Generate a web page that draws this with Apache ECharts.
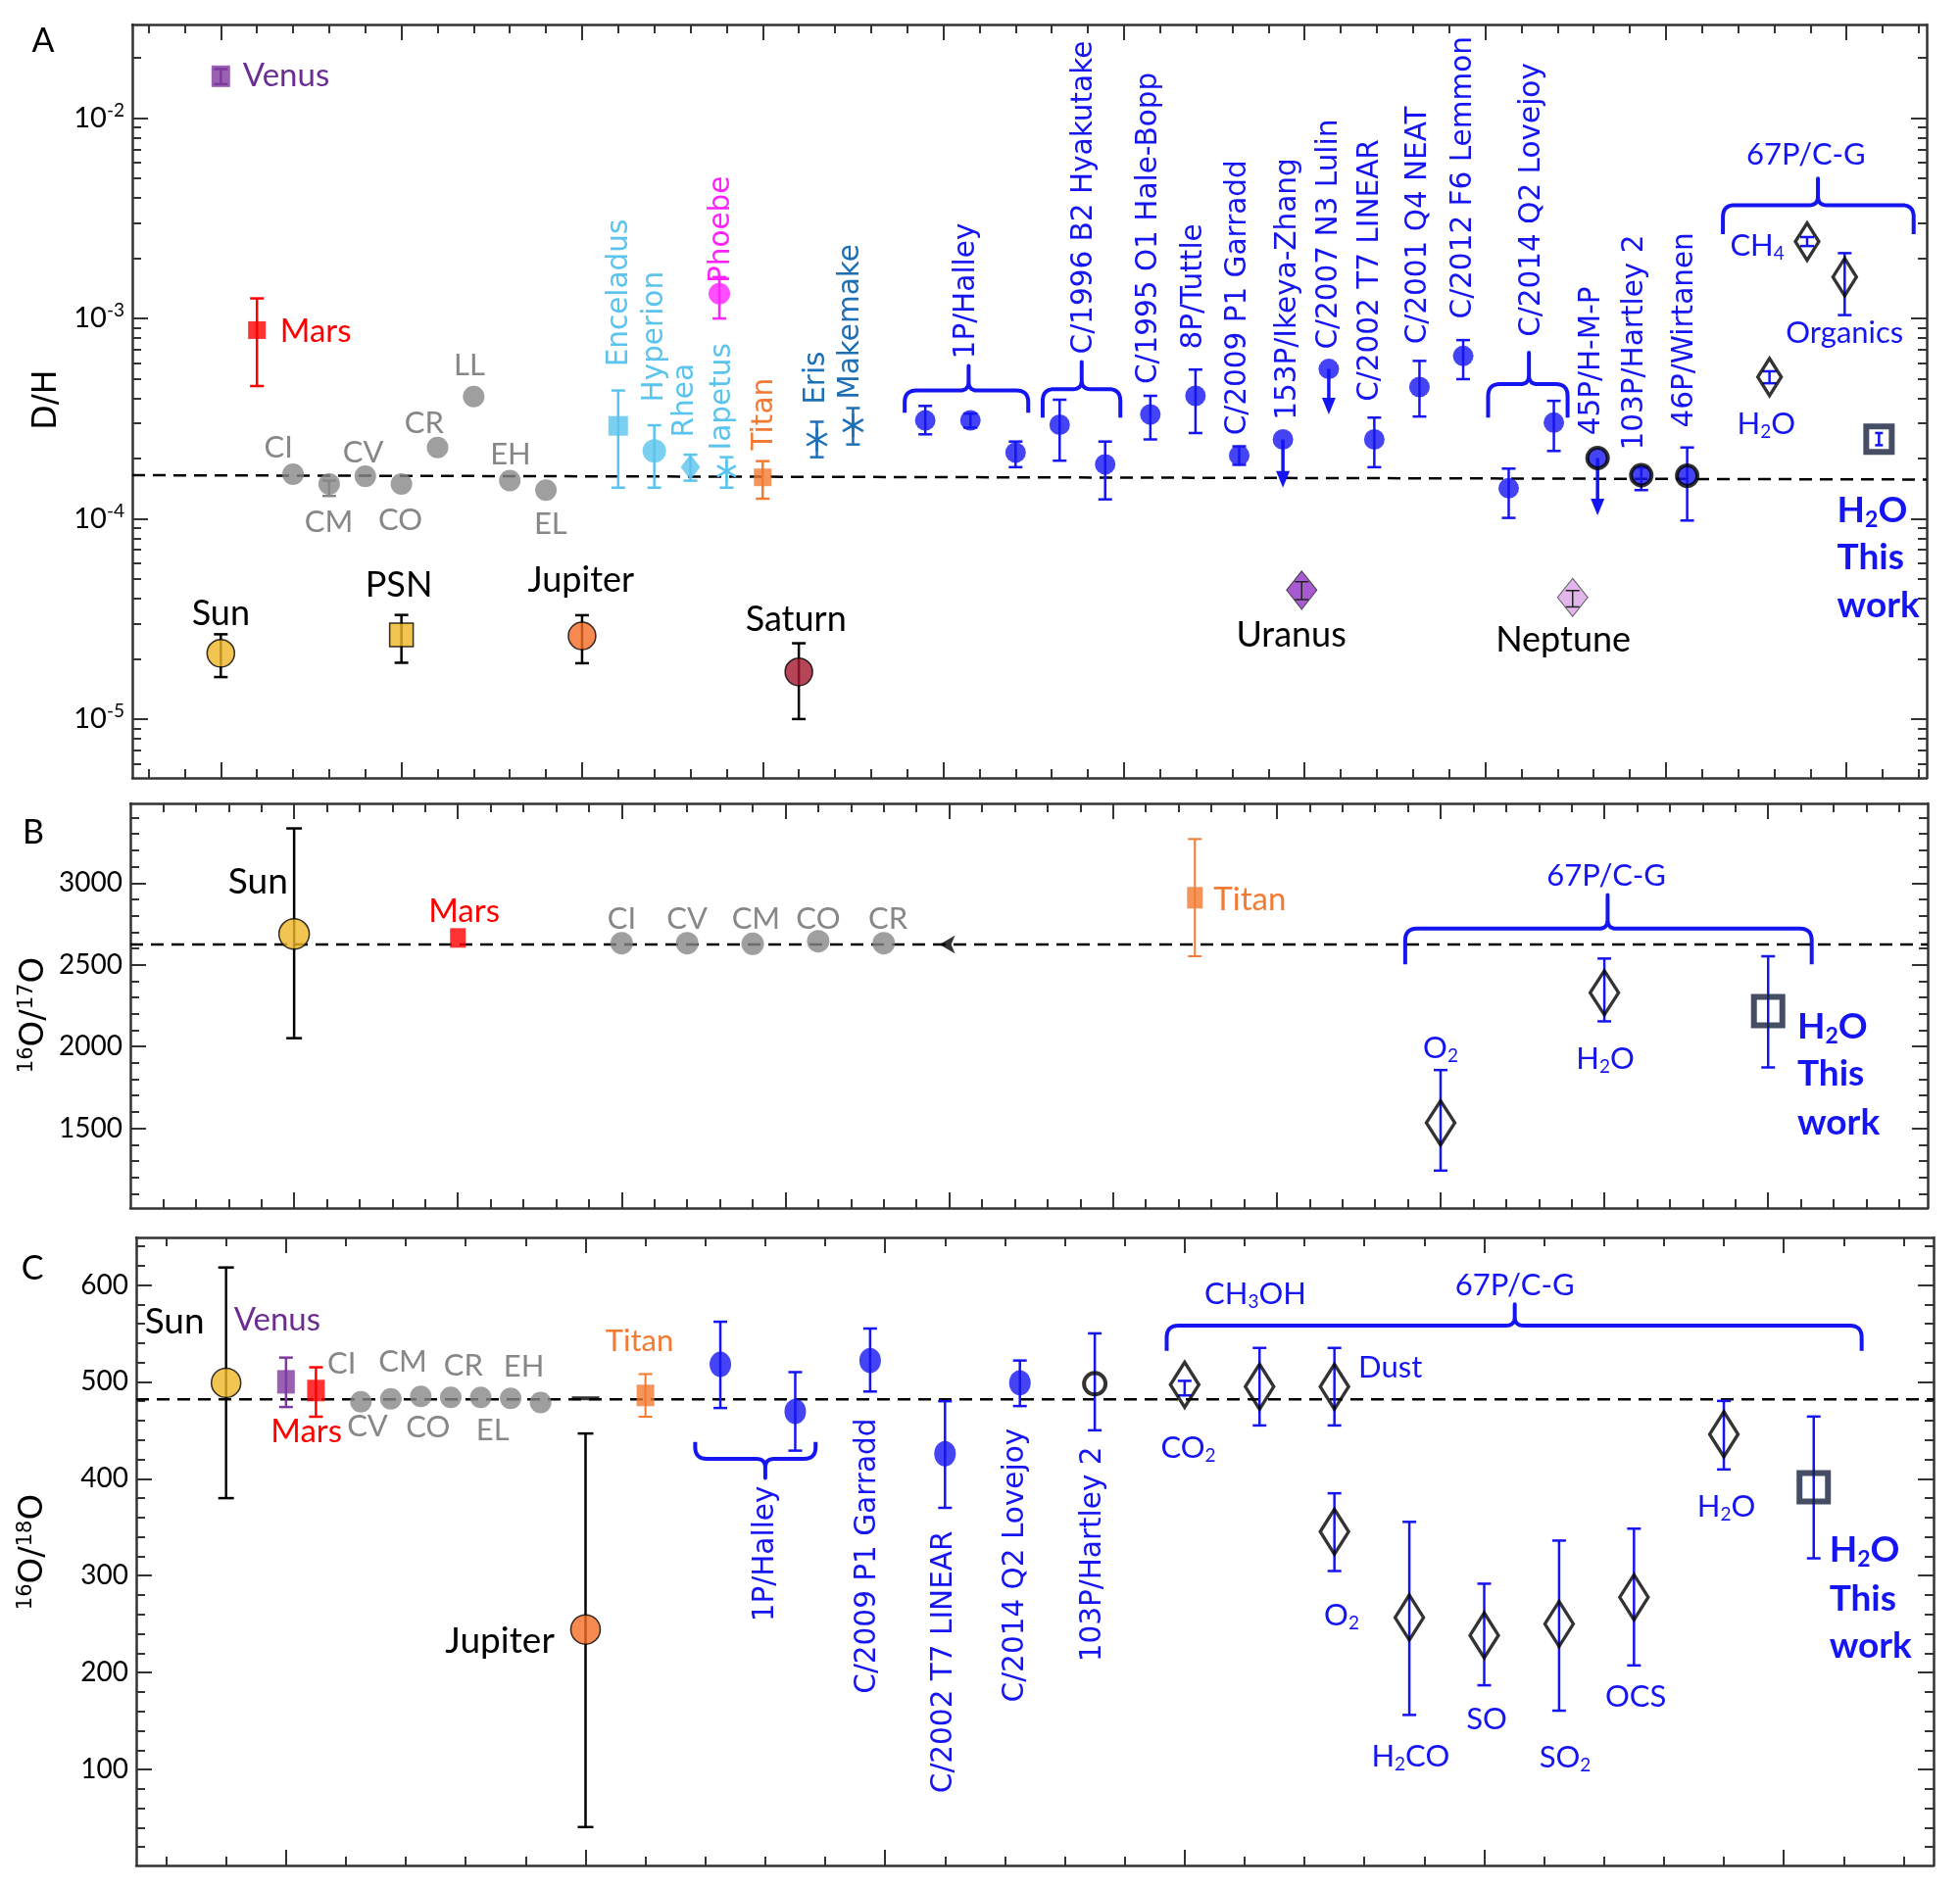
<!DOCTYPE html>
<html><head><meta charset="utf-8">
<script src="https://cdn.jsdelivr.net/npm/echarts@6.0.0/dist/echarts.min.js"></script>
<style>html,body{margin:0;padding:0;background:#fff}#chart{width:2000px;height:1926px}</style>
</head><body><div id="chart"></div>
<script>
// ================= DATA =================
// Panel A : D/H   rows = [position, D/H, low, high]
const aVenus = [[5, 1.62e-2, 1.48e-2, 1.76e-2]];
const aMars = [[6, 8.75e-4, 4.6e-4, 1.26e-3]];
const aSun = [[5, 2.13e-5, 1.62e-5, 2.65e-5]];
const aPSN = [[10, 2.63e-5, 1.91e-5, 3.31e-5]];
const aJupiter = [[15, 2.6e-5, 1.9e-5, 3.3e-5]];
const aSaturn = [[21, 1.72e-5, 1.0e-5, 2.39e-5]];
const aMeteorites = [[7, 1.67e-4], [8, 1.49e-4, 1.3e-4, 1.55e-4], [9, 1.63e-4], [10, 1.49e-4], [11, 2.27e-4], [12, 4.08e-4], [13, 1.55e-4], [14, 1.39e-4]];
const aEnceladus = [[16, 2.91e-4, 1.43e-4, 4.37e-4]];
const aHyperion = [[17, 2.18e-4, 1.43e-4, 2.93e-4]];
const aRhea = [[18, 1.81e-4, 1.55e-4, 2.09e-4]];
const aIapetus = [[19, 1.73e-4, 1.43e-4, 2.03e-4]];
const aPhoebe = [[18.8, 1.33e-3, 1.0e-3, 1.61e-3]];
const aTitan = [[20, 1.61e-4, 1.26e-4, 1.94e-4]];
const aKBO = [[21.5, 2.49e-4, 2.03e-4, 3.05e-4], [22.5, 2.93e-4, 2.35e-4, 3.57e-4]];
const aComets = [
  [24.5, 3.1e-4, 2.64e-4, 3.66e-4], [25.75, 3.1e-4, 2.85e-4, 3.35e-4], [27, 2.14e-4, 1.81e-4, 2.43e-4],
  [28.22, 2.95e-4, 1.95e-4, 3.93e-4], [29.48, 1.87e-4, 1.25e-4, 2.43e-4],
  [30.73, 3.32e-4, 2.49e-4, 4.11e-4], [31.98, 4.11e-4, 2.68e-4, 5.56e-4], [33.19, 2.07e-4, 1.86e-4, 2.3e-4],
  [34.4, 2.49e-4], [35.67, 5.6e-4],
  [36.93, 2.49e-4, 1.81e-4, 3.2e-4], [38.18, 4.55e-4, 3.24e-4, 6.14e-4], [39.39, 6.5e-4, 4.98e-4, 7.8e-4],
  [40.65, 1.42e-4, 1.01e-4, 1.78e-4], [41.9, 3.02e-4, 2.18e-4, 3.88e-4]];
const aCometLimits = [[34.4, 2.49e-4, 1.43e-4], [35.67, 5.6e-4, 3.32e-4], [43.11, 2.01e-4, 1.04e-4]];
const aJFC = [[43.11, 2.01e-4], [44.32, 1.65e-4, 1.39e-4, 1.8e-4], [45.59, 1.64e-4, 0.98e-4, 2.27e-4]];
const aUranus = [[34.92, 4.4e-5, 3.95e-5, 4.85e-5]];
const aNeptune = [[42.42, 4.05e-5, 3.63e-5, 4.38e-5]];
const a67P = [[47.87, 5.1e-4, 4.75e-4, 5.45e-4], [48.91, 2.42e-3, 2.3e-3, 2.55e-3], [49.95, 1.61e-3, 1.04e-3, 2.12e-3]];
const aThisWork = [[50.9, 2.5e-4, 2.33e-4, 2.68e-4]];
const aRef = [[2.55, 1.65e-4], [52.22, 1.57e-4]];
// brackets: [x1, x2, base, end, peakX, peak]
const aBrackets = [[23.93, 27.35, 4.37e-4, 3.38e-4, 25.7, 5.8e-4], [27.75, 29.9, 4.44e-4, 3.2e-4, 28.83, 6.07e-4],
  [40.08, 42.28, 4.7e-4, 3.2e-4, 41.21, 6.75e-4], [46.58, 51.86, 3.68e-3, 2.64e-3, 49.21, 5.0e-3]];
// labels: [text, position, value]
const aLabVenus = [['Venus', 5.61, 1.62e-2]];
const aLabMars = [['Mars', 6.64, 8.6e-4]];
const aLabGrey = [['CI', 6.6, 2.26e-4], ['CM', 7.99, 9.64e-5], ['CV', 8.94, 2.13e-4], ['CO', 9.97, 9.85e-5], ['CR', 10.63, 2.99e-4], ['LL', 11.88, 5.83e-4], ['EH', 13.02, 2.1e-4], ['EL', 14.13, 9.4e-5]];
const aLabBlack = [['Sun', 5, 3.35e-5], ['PSN', 9.93, 4.63e-5], ['Jupiter', 14.97, 4.9e-5], ['Saturn', 20.92, 3.13e-5], ['Uranus', 34.63, 2.63e-5], ['Neptune', 42.16, 2.48e-5]];
const aLabBlue = [['67P/C-G', 48.88, 6.59e-3], ['CH_4', 47.53, 2.31e-3], ['Organics', 49.95, 8.5e-4], ['H_2O', 47.78, 2.98e-4]];
const aLabBold = [['H_2O', 49.74, 1.1e-4], ['This', 49.74, 6.4e-5], ['work', 49.74, 3.68e-5]];
const aRotLight = [['Enceladus', 16.03, 5.74e-4], ['Hyperion', 17.02, 3.82e-4], ['Rhea', 17.85, 2.55e-4], ['Iapetus', 18.9, 2.2e-4]];
const aRotMagenta = [['Phoebe', 18.85, 1.5e-3]];
const aRotOrange = [['Titan', 20.05, 2.2e-4]];
const aRotMid = [['Eris', 21.49, 3.72e-4], ['Makemake', 22.44, 3.94e-4]];
const aRotBlue = [['1P/Halley', 25.64, 6.28e-4], ['C/1996 B2 Hyakutake', 28.91, 6.64e-4], ['C/1995 O1 Hale-Bopp', 30.7, 4.7e-4], ['8P/Tuttle', 31.94, 7.02e-4],
  ['C/2009 P1 Garradd', 33.16, 2.61e-4], ['153P/Ikeya-Zhang', 34.54, 3.11e-4], ['C/2007 N3 Lulin', 35.67, 7.02e-4], ['C/2002 T7 LINEAR', 36.83, 3.85e-4],
  ['C/2001 Q4 NEAT', 38.14, 7.44e-4], ['C/2012 F6 Lemmon', 39.39, 9.96e-4], ['C/2014 Q2 Lovejoy', 41.29, 8.1e-4], ['45P/H-M-P', 42.94, 2.61e-4],
  ['103P/Hartley 2', 44.15, 2.2e-4], ['46P/Wirtanen', 45.54, 2.85e-4]];
const aXMajor = [5, 10, 15, 20, 25, 30, 35, 40, 45, 50];
const aYMajorExp = [-5, -4, -3, -2];

// Panel B : 16O/17O
const bSun = [[5, 2688, 2051, 3334]];
const bMars = [[10, 2664]];
const bMeteorites = [[15, 2632], [17, 2632], [19, 2628], [21, 2644], [23, 2632]];
const bEarth = [[24.7, 2624]];
const bTitan = [[32.5, 2910, 2552, 3269]];
const b67P = [[40, 1533, 1241, 1856], [45, 2329, 2154, 2538]];
const bThisWork = [[50, 2216, 1872, 2552]];
const bRef = [[0, 2624], [54.87, 2624]];
const bBrackets = [[38.92, 51.33, 2721, 2503, 45.1, 2926]];
const bLabBlack = [['Sun', 3.9, 3010]];
const bLabRed = [['Mars', 10.19, 2827]];
const bLabGrey = [['CI', 15, 2777], ['CV', 17, 2777], ['CM', 19.1, 2777], ['CO', 21, 2777], ['CR', 23.13, 2777]];
const bLabOrange = [['Titan', 33.07, 2896]];
const bLabBlue = [['67P/C-G', 45.06, 3046], ['O_2', 40, 1991], ['H_2O', 45.03, 1922]];
const bLabBold = [['H_2O', 50.89, 2120], ['This', 50.89, 1832], ['work', 50.89, 1533]];
const bXMajor = [5, 10, 15, 20, 25, 30, 35, 40, 45, 50];
const bYMajor = [1500, 2000, 2500, 3000];

// Panel C : 16O/18O
const cSun = [[4, 499, 380, 618]];
const cVenus = [[5, 500, 474, 525]];
const cMars = [[5.5, 491, 464, 515]];
const cMeteorites = [[6.25, 479.5], [6.75, 482.5], [7.25, 485], [7.75, 484], [8.25, 484], [8.75, 483], [9.25, 478.6]];
const cEarth = [[10, 483]];
const cJupiter = [[10, 244.5, 40.6, 446.7]];
const cTitan = [[11, 486, 464, 508]];
const cComets = [[12.25, 518, 473, 562], [13.5, 469.4, 429, 510], [14.75, 522, 490, 555], [16, 425.8, 370, 480], [17.25, 499, 475, 522]];
const cHartley = [[18.5, 498, 450, 550]];
const c67P = [[20, 497, 486, 501], [21.25, 495, 455, 535], [22.5, 495, 455, 535], [22.5, 345.4, 304.8, 385], [23.75, 256.8, 156.3, 355.5],
  [25, 238.4, 186.9, 291.7], [26.25, 250.2, 160.7, 336.2], [27.5, 277.7, 207.4, 348.5], [29, 445.9, 409.6, 480.3]];
const cThisWork = [[30.5, 391.3, 317.9, 464.2]];
const cRef = [[2.5, 482], [32.5, 482]];
const cBrackets = [[11.83, 13.84, 420.5, 438, 13.0, 400.8], [19.7, 31.3, 558, 531.9, 25.51, 579.9]];
const cLabBlack = [['Sun', 3.14, 562.4], ['Jupiter', 8.57, 232.8]];
const cLabVenus = [['Venus', 4.13, 563.3]];
const cLabRed = [['Mars', 5.34, 448.9]];
const cLabGrey = [['CI', 5.93, 518.8], ['CM', 6.95, 521], ['CR', 7.96, 516.6], ['EH', 8.97, 515.3], ['CV', 6.36, 454.1], ['CO', 7.37, 452.4], ['EL', 8.45, 450.2]];
const cLabOrange = [['Titan', 10.9, 541.5]];
const cLabBlue = [['CH_3OH', 21.18, 590.8], ['67P/C-G', 25.51, 599.6], ['CO_2', 20.06, 431.4], ['O_2', 22.62, 259], ['H_2CO', 23.77, 113.5],
  ['SO', 25.04, 152], ['SO_2', 26.35, 112.7], ['OCS', 27.53, 174.7], ['H_2O', 29.04, 371.2]];
const cLabDust = [['Dust', 22.9, 514.4]];
const cLabBold = [['H_2O', 30.76, 326.6], ['This', 30.76, 275.5], ['work', 30.76, 227]];
const cRotBlue = [['1P/Halley', 13.0, 252.4], ['C/2009 P1 Garradd', 14.71, 178.2], ['C/2002 T7 LINEAR', 15.98, 75.6], ['C/2014 Q2 Lovejoy', 17.18, 169.4], ['103P/Hartley 2', 18.47, 210.9]];
const cXMajor = [5, 10, 15, 20, 25, 30];
const cYMajor = [100, 200, 300, 400, 500, 600];

// ================= STYLE / BUILD =================
const BLUE = '#1515f2', LBLUE = '#5ac4ee', MBLUE = '#1d6fb6', MAGENTA = '#ff22ff', ORANGE = '#f37a33',
  GREY = '#878787', RED = '#ff0000', PURPLE = '#6b2d92', PURPLE_M = '#7e3a9e', GOLD = '#efb526', JUP = '#f46d25',
  SAT = '#a3162d', URANUS = '#9232c4', NEPTUNE = '#dca4e6', NAVY = '#16223f', FRAME = '#333';
const FH = 'Lato, "Noto Sans", sans-serif', FR = '"DejaVu Sans", sans-serif';
const TRANSP = 'rgba(255,255,255,0)';
const ROT = 29.5;

function range(a, b, s) { const r = []; for (let v = a; v <= b + 1e-9; v += (s || 1)) r.push(+v.toFixed(6)); return r; }

const grids = [
  { left: 135, top: 25, width: 1831, height: 769 },
  { left: 133, top: 820, width: 1834, height: 413 },
  { left: 139, top: 1263, width: 1834, height: 641 }
];

const xAxes = [], yAxes = [];
function decoAxis(g, min, max, pos, vals, len, line, label) {
  return {
    type: 'value', gridIndex: g, min: min, max: max, position: pos,
    axisLine: { show: line, onZero: false, lineStyle: { color: FRAME, width: 2.5 } },
    axisTick: { show: true, inside: true, length: len, customValues: vals, lineStyle: { color: FRAME, width: 2 } },
    axisLabel: label || { show: false },
    splitLine: { show: false }, minorTick: { show: false }
  };
}
function addX(g, min, max, majors, minors) {
  xAxes.push({ type: 'value', gridIndex: g, min: min, max: max, show: false });
  xAxes.push(decoAxis(g, min, max, 'bottom', majors, 16, true));
  xAxes.push(decoAxis(g, min, max, 'bottom', minors, 9, false));
  xAxes.push(decoAxis(g, min, max, 'top', majors, 16, true));
  xAxes.push(decoAxis(g, min, max, 'top', minors, 9, false));
}
function addY(g, dataAxis, dmin, dmax, majors, minors, label) {
  yAxes.push(Object.assign({ gridIndex: g, show: false }, dataAxis));
  yAxes.push(decoAxis(g, dmin, dmax, 'left', majors, 16, true, label));
  yAxes.push(decoAxis(g, dmin, dmax, 'left', minors, 9, false));
  yAxes.push(decoAxis(g, dmin, dmax, 'right', majors, 16, true));
  yAxes.push(decoAxis(g, dmin, dmax, 'right', minors, 9, false));
}
const tickLab = { show: true, fontFamily: FH, fontSize: 28, color: '#000', margin: 8 };

// Panel A axes
const A_LMIN = -5.294, A_LMAX = -1.532;
const aYMinorExp = [];
for (let e = -6; e <= -2; e++) for (let k = 2; k <= 9; k++) { const l = Math.log10(k) + e; if (l > A_LMIN && l < A_LMAX) aYMinorExp.push(l); }
addX(0, 2.55, 52.22, aXMajor, range(3, 52));
addY(0, { type: 'log', logBase: 10, min: Math.pow(10, A_LMIN), max: Math.pow(10, A_LMAX) }, A_LMIN, A_LMAX, aYMajorExp, aYMinorExp,
  Object.assign({}, tickLab, {
    customValues: aYMajorExp,
    formatter: v => '{b|10}{e|' + Math.round(v) + '}',
    rich: { b: { fontFamily: FH, fontSize: 29, color: '#000' }, e: { fontFamily: FH, fontSize: 19, color: '#000', padding: [0, 0, 16, 0] } }
  }));
// Panel B axes
addX(1, 0, 54.87, bXMajor, range(1, 54));
addY(1, { type: 'value', min: 1012, max: 3487 }, 1012, 3487, bYMajor, range(1100, 3400, 100),
  Object.assign({}, tickLab, { customValues: bYMajor, formatter: v => String(Math.round(v)) }));
// Panel C axes
addX(2, 2.5, 32.5, cXMajor, range(3, 32));
addY(2, { type: 'value', min: 1, max: 649 }, 1, 649, cYMajor, range(20, 640, 20),
  Object.assign({}, tickLab, { customValues: cYMajor, formatter: v => String(Math.round(v)) }));

const series = [];
const ax = g => ({ xAxisIndex: g * 5, yAxisIndex: g * 5 });

function sc(g, arr, symbol, size, itemStyle, extra) {
  series.push(Object.assign({ type: 'scatter', data: arr.map(r => [r[0], r[1]]), symbol: symbol, symbolSize: size,
    itemStyle: itemStyle, z: 4, silent: true }, ax(g), extra || {}));
}
function eb(g, arr, color, width, cap, z) {
  const rows = arr.filter(r => r.length >= 4);
  width = width || 2.5; cap = cap == null ? 7 : cap;
  series.push(Object.assign({ type: 'custom', z: z || 3, silent: true,
    data: rows.map(r => [r[0], r[2], r[3]]),
    renderItem: (p, api) => {
      const x = api.value(0);
      const a = api.coord([x, api.value(1)]), b = api.coord([x, api.value(2)]);
      const st = { stroke: color, lineWidth: width };
      const ch = [{ type: 'line', shape: { x1: a[0], y1: a[1], x2: b[0], y2: b[1] }, style: st }];
      if (cap > 0) {
        ch.push({ type: 'line', shape: { x1: a[0] - cap, y1: a[1], x2: a[0] + cap, y2: a[1] }, style: st });
        ch.push({ type: 'line', shape: { x1: b[0] - cap, y1: b[1], x2: b[0] + cap, y2: b[1] }, style: st });
      }
      return { type: 'group', children: ch };
    } }, ax(g)));
}
function arrows(g, arr, color) {
  series.push(Object.assign({ type: 'custom', z: 3, silent: true, data: arr.map(r => [r[0], r[1], r[2]]),
    renderItem: (p, api) => {
      const x = api.value(0);
      const a = api.coord([x, api.value(1)]), b = api.coord([x, api.value(2)]);
      return { type: 'group', children: [
        { type: 'line', shape: { x1: a[0], y1: a[1], x2: b[0], y2: b[1] - 14 }, style: { stroke: color, lineWidth: 3.5 } },
        { type: 'polygon', shape: { points: [[b[0] - 7, b[1] - 17], [b[0] + 7, b[1] - 17], [b[0], b[1]]] }, style: { fill: color } }] };
    } }, ax(g)));
}
function aster(g, arr, color, size) {
  series.push(Object.assign({ type: 'custom', z: 4, silent: true, data: arr.map(r => [r[0], r[1]]),
    renderItem: (p, api) => {
      const c = api.coord([api.value(0), api.value(1)]);
      const r = size / 2, dx = r * Math.cos(Math.PI / 6), dy = r * Math.sin(Math.PI / 6);
      const st = { stroke: color, lineWidth: 2.5 };
      return { type: 'group', children: [
        { type: 'line', shape: { x1: c[0], y1: c[1] - r, x2: c[0], y2: c[1] + r }, style: st },
        { type: 'line', shape: { x1: c[0] - dx, y1: c[1] - dy, x2: c[0] + dx, y2: c[1] + dy }, style: st },
        { type: 'line', shape: { x1: c[0] - dx, y1: c[1] + dy, x2: c[0] + dx, y2: c[1] - dy }, style: st }] };
    } }, ax(g)));
}
function quad(pts, p0, c, p1) { for (let i = 1; i <= 8; i++) { const t = i / 8, u = 1 - t; pts.push([u * u * p0[0] + 2 * u * t * c[0] + t * t * p1[0], u * u * p0[1] + 2 * u * t * c[1] + t * t * p1[1]]); } }
function brackets(g, arr, color) {
  series.push(Object.assign({ type: 'custom', z: 5, silent: true, data: arr,
    renderItem: (p, api) => {
      const v = i => api.value(i);
      const L = api.coord([v(0), v(2)]), R = api.coord([v(1), v(2)]), E = api.coord([v(0), v(3)]), K = api.coord([v(4), v(5)]);
      const yb = L[1], se = Math.sign(E[1] - yb), sk = Math.sign(K[1] - yb), r = 12, rk = 9;
      const x1 = L[0], x2 = R[0], xp = K[0];
      const pts = [[x1, E[1]], [x1, yb + se * r]];
      quad(pts, [x1, yb + se * r], [x1, yb], [x1 + r, yb]);
      pts.push([xp - rk, yb]);
      quad(pts, [xp - rk, yb], [xp, yb], [xp, yb + sk * rk]);
      pts.push([xp, K[1]]); pts.push([xp, yb + sk * rk]);
      quad(pts, [xp, yb + sk * rk], [xp, yb], [xp + rk, yb]);
      pts.push([x2 - r, yb]);
      quad(pts, [x2 - r, yb], [x2, yb], [x2, yb + se * r]);
      pts.push([x2, E[1]]);
      return { type: 'polyline', shape: { points: pts }, style: { stroke: color, lineWidth: 4, fill: null, lineJoin: 'round' } };
    } }, ax(g)));
}
function refLine(g, arr) {
  series.push(Object.assign({ type: 'line', data: arr, symbol: 'none', z: 2, silent: true,
    lineStyle: { color: '#000', width: 2.5, type: [13, 8] } }, ax(g)));
}
function rich(t) { return t.replace(/_(\d)/g, '{s|$1}'); }
function texts(g, arr, o) {
  series.push(Object.assign({ type: 'custom', z: 6, silent: true, data: arr.map(r => [r[1], r[2]]),
    renderItem: (p, api) => {
      const c = api.coord([api.value(0), api.value(1)]);
      const fw = o.weight || 'normal';
      return { type: 'text', x: c[0], y: c[1], rotation: o.rot ? Math.PI / 2 : 0,
        style: { text: rich(arr[p.dataIndex][0]), fill: o.color, fontSize: o.size, fontFamily: o.family || FH, fontWeight: fw,
          align: o.align || 'center', verticalAlign: 'middle',
          rich: { s: { fontSize: Math.round(o.size * 0.62), fill: o.color, fontFamily: o.family || FH, fontWeight: fw, padding: [Math.round(o.size * 0.5), 0, 0, 0] } } } };
    } }, ax(g)));
}

// ----- Panel A series -----
refLine(0, aRef);
brackets(0, aBrackets, BLUE);
eb(0, aVenus, PURPLE_M); eb(0, aMars, RED); eb(0, [].concat(aSun, aPSN, aJupiter, aSaturn), '#000');
eb(0, aMeteorites, GREY); eb(0, [].concat(aEnceladus, aHyperion, aRhea, aIapetus), LBLUE); eb(0, aPhoebe, MAGENTA);
eb(0, aTitan, ORANGE); eb(0, aKBO, MBLUE); eb(0, aComets, BLUE); eb(0, aJFC, BLUE);
eb(0, [].concat(aUranus, aNeptune), '#222', 1.5, 7, 5); eb(0, a67P, BLUE); eb(0, aThisWork, BLUE, 2.5, 4);
arrows(0, aCometLimits, BLUE);
sc(0, aVenus, 'rect', [19, 22], { color: PURPLE_M });
sc(0, aMars, 'rect', [18, 18], { color: RED });
sc(0, aSun, 'circle', 28, { color: GOLD, borderColor: '#000', borderWidth: 1.5 });
sc(0, aPSN, 'rect', 24, { color: GOLD, borderColor: '#000', borderWidth: 1.5 });
sc(0, aJupiter, 'circle', 28, { color: JUP, borderColor: '#000', borderWidth: 1.5 });
sc(0, aSaturn, 'circle', 28, { color: SAT, borderColor: '#000', borderWidth: 1.5 });
sc(0, aMeteorites, 'circle', 22, { color: GREY });
sc(0, aEnceladus, 'rect', 20, { color: LBLUE });
sc(0, aHyperion, 'circle', 24, { color: LBLUE });
sc(0, aRhea, 'diamond', [20, 26], { color: LBLUE });
aster(0, aIapetus, LBLUE, 22);
sc(0, aPhoebe, 'circle', 22, { color: MAGENTA });
sc(0, aTitan, 'rect', 18, { color: ORANGE });
aster(0, aKBO, MBLUE, 24);
sc(0, aComets, 'circle', 21, { color: BLUE });
sc(0, aJFC, 'circle', 21, { color: BLUE, borderColor: '#000', borderWidth: 4 });
sc(0, aUranus, 'diamond', [31, 39], { color: URANUS, borderColor: '#222', borderWidth: 1 });
sc(0, aNeptune, 'diamond', [31, 39], { color: NEPTUNE, borderColor: '#444', borderWidth: 1 });
sc(0, a67P, 'diamond', [24, 38], { color: TRANSP, borderColor: '#000', borderWidth: 3.5 });
sc(0, aThisWork, 'rect', 26, { color: TRANSP, borderColor: NAVY, borderWidth: 6 });
texts(0, aLabVenus, { color: PURPLE, size: 33, align: 'left' });
texts(0, aLabMars, { color: RED, size: 33, align: 'left' });
texts(0, aLabGrey, { color: GREY, size: 31 });
texts(0, aLabBlack, { color: '#000', size: 36 });
texts(0, aLabBlue, { color: BLUE, size: 31 });
texts(0, aLabBold, { color: BLUE, size: 37, weight: 'bold', align: 'left' });
texts(0, aRotLight, { color: LBLUE, size: ROT, family: FR, rot: true, align: 'left' });
texts(0, aRotMagenta, { color: MAGENTA, size: ROT, family: FR, rot: true, align: 'left' });
texts(0, aRotOrange, { color: ORANGE, size: ROT, family: FR, rot: true, align: 'left' });
texts(0, aRotMid, { color: MBLUE, size: ROT, family: FR, rot: true, align: 'left' });
texts(0, aRotBlue, { color: BLUE, size: ROT, family: FR, rot: true, align: 'left' });

// ----- Panel B series -----
refLine(1, bRef);
brackets(1, bBrackets, BLUE);
eb(1, bSun, '#000', 2.5, 8); eb(1, bTitan, ORANGE, 2, 7); eb(1, b67P, BLUE); eb(1, bThisWork, BLUE);
sc(1, bSun, 'circle', 31, { color: GOLD, borderColor: '#000', borderWidth: 1.5 });
sc(1, bMars, 'rect', [16, 20], { color: RED });
sc(1, bMeteorites, 'circle', 23, { color: GREY });
sc(1, bEarth, 'arrow', [14, 16], { color: '#000' }, { symbolRotate: 90 });
sc(1, bTitan, 'rect', [16, 22], { color: ORANGE });
sc(1, b67P, 'diamond', [29, 45], { color: TRANSP, borderColor: '#000', borderWidth: 3.5 });
sc(1, bThisWork, 'rect', 29, { color: TRANSP, borderColor: NAVY, borderWidth: 6 });
texts(1, bLabBlack, { color: '#000', size: 37 });
texts(1, bLabRed, { color: RED, size: 33 });
texts(1, bLabGrey, { color: GREY, size: 31 });
texts(1, bLabOrange, { color: ORANGE, size: 33, align: 'left' });
texts(1, bLabBlue, { color: BLUE, size: 31 });
texts(1, bLabBold, { color: BLUE, size: 37, weight: 'bold', align: 'left' });

// ----- Panel C series -----
refLine(2, cRef);
brackets(2, cBrackets, BLUE);
eb(2, cSun, '#000', 2.5, 8); eb(2, cVenus, PURPLE_M); eb(2, cMars, RED); eb(2, cJupiter, '#000', 2.5, 8);
eb(2, cTitan, ORANGE, 2, 7); eb(2, cComets, BLUE); eb(2, cHartley, BLUE); eb(2, c67P, BLUE); eb(2, cThisWork, BLUE);
sc(2, cSun, 'circle', 30, { color: GOLD, borderColor: '#000', borderWidth: 1.5 });
sc(2, cVenus, 'rect', [18, 24], { color: PURPLE_M });
sc(2, cMars, 'rect', [18, 22], { color: RED });
sc(2, cMeteorites, 'circle', 22, { color: GREY });
sc(2, cEarth, 'rect', [28, 4], { color: '#000' });
sc(2, cJupiter, 'circle', 30, { color: JUP, borderColor: '#000', borderWidth: 1.5 });
sc(2, cTitan, 'rect', [18, 22], { color: ORANGE });
sc(2, cComets, 'circle', [22, 26], { color: BLUE });
sc(2, cHartley, 'circle', 22, { color: TRANSP, borderColor: '#000', borderWidth: 4 });
sc(2, c67P, 'diamond', [29, 46], { color: TRANSP, borderColor: '#000', borderWidth: 3.5 });
sc(2, cThisWork, 'rect', 29, { color: TRANSP, borderColor: NAVY, borderWidth: 6 });
texts(2, cLabBlack, { color: '#000', size: 37 });
texts(2, cLabVenus, { color: PURPLE, size: 33, align: 'left' });
texts(2, cLabRed, { color: RED, size: 33 });
texts(2, cLabGrey, { color: GREY, size: 31 });
texts(2, cLabOrange, { color: ORANGE, size: 31 });
texts(2, cLabBlue, { color: BLUE, size: 31 });
texts(2, cLabDust, { color: BLUE, size: 31, align: 'left' });
texts(2, cLabBold, { color: BLUE, size: 37, weight: 'bold', align: 'left' });
texts(2, cRotBlue, { color: BLUE, size: ROT, family: FR, rot: true, align: 'left' });

const supRich = { p: { fontFamily: FR, fontSize: 21, fill: '#000', padding: [0, 0, 14, 0] } };
const graphic = [
  { type: 'text', x: 44, y: 42, style: { text: 'A', fontFamily: FH, fontSize: 34, fill: '#000', align: 'center', verticalAlign: 'middle' } },
  { type: 'text', x: 34, y: 850, style: { text: 'B', fontFamily: FH, fontSize: 34, fill: '#000', align: 'center', verticalAlign: 'middle' } },
  { type: 'text', x: 33, y: 1295, style: { text: 'C', fontFamily: FH, fontSize: 34, fill: '#000', align: 'center', verticalAlign: 'middle' } },
  { type: 'text', x: 48, y: 408, rotation: Math.PI / 2, style: { text: 'D/H', fontFamily: FR, fontSize: 33, fill: '#000', align: 'center', verticalAlign: 'middle' } },
  { type: 'text', x: 35, y: 1036, rotation: Math.PI / 2, style: { text: '{p|16}O/{p|17}O', fontFamily: FR, fontSize: 34, fill: '#000', align: 'center', verticalAlign: 'middle', rich: supRich } },
  { type: 'text', x: 34, y: 1584, rotation: Math.PI / 2, style: { text: '{p|16}O/{p|18}O', fontFamily: FR, fontSize: 34, fill: '#000', align: 'center', verticalAlign: 'middle', rich: supRich } }
];

const chart = echarts.init(document.getElementById('chart'), null, { renderer: 'canvas' });
chart.setOption({
  backgroundColor: '#fff', animation: false,
  grid: grids, xAxis: xAxes, yAxis: yAxes, series: series, graphic: graphic
});
</script></body></html>
